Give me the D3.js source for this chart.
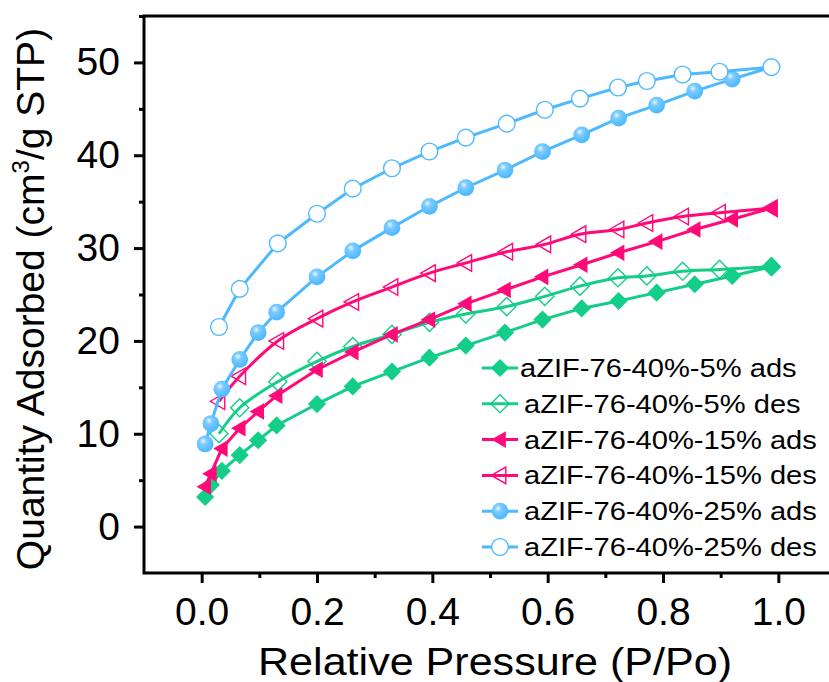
<!DOCTYPE html>
<html>
<head>
<meta charset="utf-8">
<script src="https://cdn.jsdelivr.net/npm/d3@7"></script>
<style>
  body { margin: 0; background: #fff; }
  svg { display: block; }
  text { font-family: "Liberation Sans", Arial, sans-serif; fill: #000; }
</style>
</head>
<body>
<div id="graph"></div>
<script>

//----------------------------------------------------------
// data

// relative pressure (P/Po) of adsorption and desorption points
var g_ads_p = [0.006, 0.016, 0.035, 0.066, 0.098, 0.13, 0.2, 0.262, 0.33, 0.395,
               0.458, 0.526, 0.591, 0.659, 0.723, 0.789, 0.855, 0.92, 0.988];
var g_des_p = [0.988, 0.898, 0.834, 0.772, 0.722, 0.656, 0.595, 0.529, 0.458,
               0.395, 0.33, 0.262, 0.2, 0.132, 0.066, 0.03];

// quantity adsorbed (cm3/g STP)
var g_ads_5  = [3.2, 4.5, 6.0, 7.7, 9.3, 10.9, 13.2, 15.1, 16.7, 18.2,
                19.5, 20.9, 22.3, 23.5, 24.3, 25.2, 26.1, 27.0, 28.0];
var g_des_5  = [28.0, 27.7, 27.5, 27.0, 26.8, 25.9, 24.8, 23.7, 22.9,
                22.0, 20.7, 19.4, 17.8, 15.6, 12.8, 10.0];
var g_ads_15 = [4.3, 5.7, 8.4, 10.6, 12.4, 14.1, 16.9, 18.8, 20.7, 22.3,
                24.0, 25.5, 26.9, 28.2, 29.5, 30.7, 32.0, 33.1, 34.3];
var g_des_15 = [34.3, 33.8, 33.4, 32.7, 32.0, 31.5, 30.4, 29.6, 28.4,
                27.3, 25.8, 24.2, 22.4, 20.0, 16.2, 13.5];
var g_ads_25 = [8.9, 11.1, 14.8, 18.0, 20.9, 23.1, 26.9, 29.7, 32.2, 34.5,
                36.5, 38.4, 40.4, 42.2, 44.0, 45.4, 46.9, 48.2, 49.5];
var g_des_25 = [49.5, 49.0, 48.7, 48.0, 47.3, 46.1, 44.9, 43.4, 41.9,
                40.4, 38.6, 36.4, 33.7, 30.5, 25.6, 21.5];

var g_names = ["aZIF-76-40%-5% ads", "aZIF-76-40%-5% des",
               "aZIF-76-40%-15% ads", "aZIF-76-40%-15% des",
               "aZIF-76-40%-25% ads", "aZIF-76-40%-25% des"];

var g_x_ticks = [0.0, 0.2, 0.4, 0.6, 0.8, 1.0];
var g_y_ticks = [0, 10, 20, 30, 40, 50];


//----------------------------------------------------------
var GREEN = "#14cd88", PINK = "#ff0a78", BLUE = "#4fb9ff";

var g_series = [
    { name: g_names[0], p: g_ads_p, q: g_ads_5,  colour: GREEN, shape: "diamond",  open: false, smooth: false },
    { name: g_names[1], p: g_des_p, q: g_des_5,  colour: GREEN, shape: "diamond",  open: true,  smooth: true },
    { name: g_names[2], p: g_ads_p, q: g_ads_15, colour: PINK,  shape: "triangle", open: false, smooth: false },
    { name: g_names[3], p: g_des_p, q: g_des_15, colour: PINK,  shape: "triangle", open: true,  smooth: true },
    { name: g_names[4], p: g_ads_p, q: g_ads_25, colour: BLUE,  shape: "circle",   open: false, smooth: false },
    { name: g_names[5], p: g_des_p, q: g_des_25, colour: BLUE,  shape: "circle",   open: true,  smooth: false }
];

var g_width = 829, g_height = 682;
var g_left = 144, g_right = 836, g_top = 16, g_bottom = 573;

var g_svg = d3.select("#graph")
  .append("svg")
    .attr("width", g_width)
    .attr("height", g_height);

var g_x = d3.scaleLinear().domain([-0.1, 1.1]).range([g_left, g_right]);
var g_y = d3.scaleLinear().domain([-5, 55]).range([g_bottom, g_top]);


//----------------------------------------------------------
var defs = g_svg.append("defs");
var grad = defs.append("radialGradient")
    .attr("id", "ball")
    .attr("cx", "40%").attr("cy", "35%").attr("r", "60%")
    .attr("fx", "38%").attr("fy", "32%");
grad.append("stop").attr("offset", "0%").attr("stop-color", "#e8f6ff");
grad.append("stop").attr("offset", "35%").attr("stop-color", "#7ccbff");
grad.append("stop").attr("offset", "100%").attr("stop-color", BLUE);


function MarkerPath(shape) {
    if (shape == "diamond")
        return d3.symbol().type(d3.symbolSquare).size(165)();
    if (shape == "triangle")
        return d3.symbol().type(d3.symbolTriangle).size(120)();
    return d3.symbol().type(d3.symbolCircle).size(220)();
}

function MarkerTransform(shape, px, py) {
    var t = "translate(" + px + "," + py + ")";
    if (shape == "diamond") return t + " rotate(45)";
    if (shape == "triangle") return t + " rotate(-90) translate(0,1)";
    return t;
}

function DrawMarker(sel, s, px, py) {
    var fill = "none";
    if (!s.open)
        fill = s.shape == "circle" ? "url(#ball)" : s.colour;
    else if (s.shape == "circle")
        fill = "#fff";

    sel.append("path")
        .attr("d", MarkerPath(s.shape))
        .attr("transform", MarkerTransform(s.shape, px, py))
        .attr("fill", fill)
        .attr("stroke", s.colour)
        .attr("stroke-width", s.open ? 1.4 : 0);
}


//----------------------------------------------------------
// axes and frame

var g_frame = g_svg.append("g");

function AxisStyle(g) {
    g.select(".domain").remove();
    g.selectAll("line").attr("stroke", "#000").attr("stroke-width", 3);
    g.selectAll("text")
        .attr("font-size", 39)
        .attr("font-family", "'Liberation Sans', Arial, sans-serif");
}

g_frame.append("g")
    .attr("transform", "translate(0," + g_bottom + ")")
    .call(d3.axisBottom(g_x).tickValues(g_x_ticks).tickSize(10).tickPadding(14)
        .tickFormat(d3.format(".1f")))
    .call(AxisStyle);

g_frame.append("g")
    .attr("transform", "translate(0," + g_bottom + ")")
    .call(d3.axisBottom(g_x).tickValues(g_x_ticks.map(function (v) { return v + 0.1; }))
        .tickSize(5).tickFormat(""))
    .call(AxisStyle);

g_frame.append("g")
    .attr("transform", "translate(" + g_left + ",0)")
    .call(d3.axisLeft(g_y).tickValues(g_y_ticks).tickSize(10).tickPadding(14))
    .call(AxisStyle);

g_frame.append("g")
    .attr("transform", "translate(" + g_left + ",0)")
    .call(d3.axisLeft(g_y).tickValues(g_y_ticks.map(function (v) { return v + 5; }))
        .tickSize(5).tickFormat(""))
    .call(AxisStyle);

g_frame.append("rect")
    .attr("x", g_left)
    .attr("y", g_top)
    .attr("width", g_right - g_left)
    .attr("height", g_bottom - g_top)
    .attr("fill", "none")
    .attr("stroke", "#000")
    .attr("stroke-width", 3);

g_svg.append("text")
    .attr("x", 495)
    .attr("y", 675)
    .attr("text-anchor", "middle")
    .attr("font-size", 38)
    .attr("textLength", 474)
    .attr("lengthAdjust", "spacingAndGlyphs")
    .text("Relative Pressure (P/Po)");

var ytitle = g_svg.append("text")
    .attr("transform", "translate(44,299) rotate(-90)")
    .attr("text-anchor", "middle")
    .attr("font-size", 39);
ytitle.append("tspan").text("Quantity Adsorbed (cm");
ytitle.append("tspan").attr("font-size", 24).attr("dy", -15).text("3");
ytitle.append("tspan").attr("dy", 15).text("/g STP)");


//----------------------------------------------------------
// series

var g_plot = g_svg.append("g");

g_series.forEach(function (s) {
    var pts = s.p.map(function (p, i) { return [g_x(p), g_y(s.q[i])]; });
    var line = d3.line().curve(s.smooth ? d3.curveCatmullRom : d3.curveLinear);
    var g = g_plot.append("g");

    g.append("path")
        .attr("d", line(pts))
        .attr("fill", "none")
        .attr("stroke", s.colour)
        .attr("stroke-width", 3);

    pts.forEach(function (pt) {
        DrawMarker(g, s, pt[0], pt[1]);
    });
});


//----------------------------------------------------------
// legend

var g_legend = g_svg.append("g");

g_series.forEach(function (s, i) {
    var cy = 368 + i * 35.8;
    var row = g_legend.append("g");

    row.append("line")
        .attr("x1", 482).attr("x2", 518)
        .attr("y1", cy).attr("y2", cy)
        .attr("stroke", s.colour)
        .attr("stroke-width", 3);

    DrawMarker(row, s, 500, cy);

    row.append("text")
        .attr("transform", "translate(" + (i == 0 ? 520 : 524) + "," + (cy + 9) + ") scale(1.12,1)")
        .attr("font-size", 26)
        .text(s.name);
});

</script>
</body>
</html>
